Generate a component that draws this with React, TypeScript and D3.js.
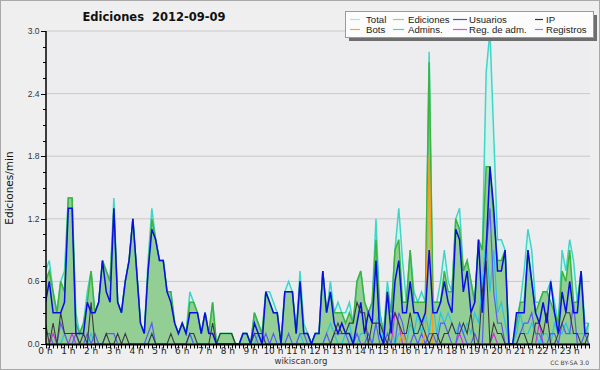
import React from 'react';
import * as d3 from 'd3';

// 10-minute bins, values in edits/min (144 points, 6 per hour)
const total = [
  0.7, 0.8, 0.5, 0.3, 0.6, 0.7,
  1.4, 1.4, 0.3, 0.1, 0.2, 0.5,
  0.7, 0.3, 0.4, 0.8, 0.7, 0.6,
  1.4, 0.4, 0.3, 0.6, 0.8, 1.2,
  0.7, 0.2, 0.1, 0.8, 1.3, 1.0,
  0.8, 0.8, 0.5, 0.5, 0.2, 0.1,
  0.2, 0.1, 0.5, 0.4, 0.3, 0.1,
  0.3, 0.1, 0.4, 0.0, 0.1, 0.1,
  0.1, 0.1, 0.0, 0.0, 0.1, 0.1,
  0.0, 0.3, 0.2, 0.1, 0.5, 0.5,
  0.4, 0.3, 0.0, 0.5, 0.6, 0.5,
  0.1, 0.7, 0.2, 0.1, 0.0, 0.1,
  0.1, 0.7, 0.3, 0.6, 0.3, 0.4,
  0.3, 0.3, 0.4, 0.2, 0.6, 0.7,
  0.4, 0.3, 0.4, 1.2, 0.3, 0.1,
  0.6, 0.3, 0.9, 1.3, 0.8, 0.4,
  0.9, 0.5, 0.4, 0.5, 0.4, 2.8,
  0.4, 0.4, 0.6, 0.9, 0.6, 0.5,
  1.2, 1.3, 0.7, 0.8, 0.6, 0.4,
  1.0, 0.9, 2.6, 3.0, 2.0, 1.0,
  1.0, 0.9, 0.0, 0.0, 0.2, 0.4,
  0.7, 1.1, 0.9, 0.4, 0.4, 0.5,
  0.5, 0.6, 0.4, 0.2, 0.9, 0.7,
  1.0, 0.8, 0.4, 0.7, 0.2, 0.2,
];

const edits = [
  0.6, 0.7, 0.5, 0.3, 0.6, 0.5,
  1.4, 1.4, 0.2, 0.1, 0.2, 0.4,
  0.7, 0.3, 0.4, 0.8, 0.7, 0.6,
  1.3, 0.4, 0.3, 0.6, 0.8, 1.2,
  0.7, 0.2, 0.1, 0.7, 1.2, 1.0,
  0.8, 0.8, 0.5, 0.5, 0.2, 0.1,
  0.2, 0.1, 0.4, 0.4, 0.3, 0.1,
  0.3, 0.1, 0.4, 0.0, 0.1, 0.1,
  0.1, 0.1, 0.0, 0.0, 0.1, 0.1,
  0.0, 0.3, 0.2, 0.1, 0.5, 0.4,
  0.3, 0.3, 0.0, 0.5, 0.5, 0.5,
  0.1, 0.6, 0.1, 0.1, 0.0, 0.1,
  0.1, 0.7, 0.3, 0.5, 0.3, 0.3,
  0.3, 0.2, 0.3, 0.2, 0.6, 0.7,
  0.4, 0.3, 0.4, 1.0, 0.3, 0.1,
  0.5, 0.3, 0.9, 1.0, 0.4, 0.4,
  0.9, 0.4, 0.4, 0.4, 0.4, 2.7,
  0.4, 0.4, 0.4, 0.7, 0.5, 0.5,
  1.2, 1.1, 0.7, 0.8, 0.6, 0.4,
  1.0, 0.9, 1.7, 1.7, 1.2, 0.8,
  0.8, 0.9, 0.0, 0.0, 0.2, 0.4,
  0.4, 0.9, 0.6, 0.3, 0.4, 0.5,
  0.5, 0.4, 0.3, 0.2, 0.7, 0.6,
  0.9, 0.4, 0.4, 0.7, 0.1, 0.2,
];

const users = [
  0.4, 0.6, 0.3, 0.3, 0.3, 0.4,
  1.3, 1.3, 0.1, 0.1, 0.1, 0.4,
  0.3, 0.3, 0.4, 0.8, 0.5, 0.4,
  1.3, 0.4, 0.3, 0.6, 0.8, 1.2,
  0.7, 0.2, 0.1, 0.7, 1.1, 1.0,
  0.8, 0.8, 0.5, 0.4, 0.2, 0.1,
  0.2, 0.1, 0.3, 0.3, 0.3, 0.1,
  0.3, 0.1, 0.1, 0.0, 0.0, 0.0,
  0.0, 0.0, 0.0, 0.0, 0.1, 0.1,
  0.0, 0.2, 0.1, 0.0, 0.5, 0.4,
  0.3, 0.3, 0.0, 0.5, 0.5, 0.5,
  0.1, 0.6, 0.1, 0.1, 0.0, 0.1,
  0.1, 0.7, 0.3, 0.5, 0.2, 0.1,
  0.2, 0.1, 0.1, 0.0, 0.2, 0.4,
  0.1, 0.3, 0.2, 0.8, 0.1, 0.0,
  0.5, 0.1, 0.6, 0.8, 0.3, 0.3,
  0.6, 0.3, 0.3, 0.2, 0.3, 0.9,
  0.3, 0.3, 0.4, 0.6, 0.4, 0.3,
  1.1, 1.0, 0.5, 0.7, 0.3, 0.4,
  1.0, 0.3, 0.9, 1.7, 1.3, 0.7,
  0.7, 0.9, 0.0, 0.0, 0.3, 0.3,
  0.3, 0.9, 0.6, 0.3, 0.2, 0.4,
  0.2, 0.6, 0.3, 0.1, 0.5, 0.3,
  0.6, 0.3, 0.3, 0.7, 0.1, 0.1,
];

const ip = [
  0.2, 0.0, 0.2, 0.0, 0.3, 0.1,
  0.1, 0.1, 0.1, 0.0, 0.1, 0.0,
  0.4, 0.0, 0.0, 0.0, 0.1, 0.0,
  0.0, 0.1, 0.0, 0.1, 0.0, 0.0,
  0.0, 0.0, 0.0, 0.0, 0.1, 0.0,
  0.0, 0.0, 0.0, 0.1, 0.0, 0.0,
  0.0, 0.0, 0.1, 0.1, 0.0, 0.0,
  0.0, 0.0, 0.2, 0.0, 0.1, 0.1,
  0.1, 0.1, 0.0, 0.0, 0.0, 0.0,
  0.0, 0.1, 0.1, 0.1, 0.0, 0.0,
  0.0, 0.0, 0.0, 0.0, 0.0, 0.0,
  0.0, 0.0, 0.0, 0.0, 0.0, 0.0,
  0.0, 0.0, 0.0, 0.0, 0.1, 0.2,
  0.1, 0.1, 0.2, 0.2, 0.4, 0.3,
  0.3, 0.0, 0.2, 0.2, 0.2, 0.1,
  0.0, 0.2, 0.3, 0.2, 0.1, 0.1,
  0.3, 0.1, 0.1, 0.2, 0.1, 0.0,
  0.1, 0.1, 0.0, 0.1, 0.1, 0.2,
  0.1, 0.1, 0.2, 0.1, 0.3, 0.0,
  0.0, 0.5, 0.8, 0.0, 0.2, 0.1,
  0.1, 0.0, 0.0, 0.0, 0.0, 0.1,
  0.1, 0.0, 0.0, 0.2, 0.2, 0.1,
  0.3, 0.0, 0.0, 0.1, 0.2, 0.3,
  0.3, 0.1, 0.1, 0.0, 0.0, 0.1,
];

const bots = [
  0, 0, 0, 0, 0, 0,  0, 0, 0, 0, 0, 0,  0, 0, 0, 0, 0, 0,  0, 0, 0, 0, 0, 0,
  0, 0, 0, 0, 0, 0,  0, 0, 0, 0, 0, 0,  0, 0, 0, 0, 0, 0,  0, 0, 0, 0, 0, 0,
  0, 0, 0, 0, 0, 0,  0, 0, 0, 0, 0, 0,  0, 0, 0, 0, 0, 0,  0, 0, 0, 0, 0, 0,
  0, 0, 0, 0, 0, 0,  0, 0, 0, 0, 0, 0,  0, 0, 0, 0, 0, 0,  0, 0, 0, 0, 0.1, 0,
  0, 0, 0, 0, 0.1, 1.8,  0, 0, 0, 0, 0, 0,  0, 0, 0, 0, 0, 0,  0, 0, 0, 0, 0, 0,
  0, 0, 0, 0, 0, 0,  0, 0, 0, 0, 0, 0,  0, 0, 0, 0, 0, 0,  0, 0, 0, 0, 0, 0,
];

const admins = [
  0, 0, 0, 0, 0, 0.1,  0, 0, 0, 0, 0, 0,  0.1, 0, 0, 0, 0, 0,  0, 0, 0, 0, 0, 0,
  0, 0, 0, 0, 0.1, 0,  0, 0, 0, 0, 0, 0,  0, 0, 0.1, 0, 0, 0,  0, 0, 0, 0, 0, 0,
  0, 0, 0, 0, 0, 0,  0, 0, 0.1, 0, 0, 0,  0, 0, 0, 0, 0, 0,  0, 0.1, 0, 0, 0, 0,
  0.0, 0.0, 0.1, 0.2, 0.1, 0.0,
  0.0, 0.1, 0.2, 0.0, 0.0, 0.1,
  0.1, 0.0, 0.0, 0.2, 0.3, 0.0,
  0.0, 0.2, 0.0, 0.1, 0.1, 0.0,
  0.2, 0.1, 0.3, 0.1, 0.3, 0.1,
  0.4, 0.1, 0.3, 0.2, 0.3, 0.2,
  0.1, 0.2, 0.1, 0.2, 0.1, 0.3,
  0.2, 0.6, 1.0, 0.5, 0.9, 0.3,
  0.4, 0.2, 0.0, 0.0, 0.1, 0.3,
  0.1, 0.1, 0.2, 0.1, 0.0, 0.1,
  0.1, 0.0, 0.2, 0.1, 0.1, 0.2,
  0.1, 0.1, 0.1, 0.1, 0.1, 0.2,
];

const regAdm = [
  0, 0, 0.1, 0, 0, 0,  0, 0.1, 0, 0, 0, 0,  0, 0, 0, 0, 0, 0,  0, 0, 0, 0, 0, 0,
  0, 0, 0, 0, 0, 0,  0, 0, 0, 0, 0, 0,  0, 0, 0, 0, 0, 0,  0, 0, 0, 0, 0, 0,
  0, 0, 0, 0, 0, 0,  0, 0, 0, 0, 0, 0,  0, 0, 0, 0, 0, 0,  0, 0, 0, 0, 0, 0,
  0, 0, 0, 0, 0, 0,  0, 0, 0, 0, 0, 0,  0, 0, 0, 0, 0, 0,  0, 0, 0.3, 0.2, 0, 0,
  0, 0, 0, 0, 0, 0,  0, 0, 0, 0, 0, 0,  0, 0.1, 0, 0, 0, 0,  0, 0, 0, 0, 0.1, 0,
  0, 0, 0, 0, 0, 0,  0, 0, 0, 0, 0.2, 0,  0, 0, 0, 0, 0, 0,  0, 0, 0, 0, 0, 0,
];

const registros = [
  0.1, 0.1, 0.0, 0.0, 0.2, 0.1,
  0.0, 0.0, 0.1, 0.0, 0.0, 0.1,
  0.0, 0.1, 0.0, 0.0, 0.1, 0.1,
  0.1, 0.0, 0.0, 0.0, 0.0, 0.0,
  0.0, 0.0, 0.0, 0.1, 0.2, 0.0,
  0.0, 0.0, 0.0, 0.0, 0.0, 0.0,
  0.0, 0.0, 0.1, 0.0, 0.0, 0.0,
  0.0, 0.0, 0.0, 0.0, 0.0, 0.0,
  0.0, 0.0, 0.0, 0.0, 0.0, 0.0,
  0.0, 0.1, 0.0, 0.0, 0.1, 0.0,
  0.1, 0.0, 0.0, 0.0, 0.1, 0.0,
  0.0, 0.1, 0.1, 0.0, 0.0, 0.0,
  0.0, 0.0, 0.1, 0.0, 0.1, 0.1,
  0.1, 0.1, 0.0, 0.0, 0.1, 0.0,
  0.0, 0.1, 0.0, 0.2, 0.0, 0.0,
  0.1, 0.0, 0.0, 0.3, 0.2, 0.0,
  0.0, 0.1, 0.0, 0.1, 0.0, 0.1,
  0.1, 0.0, 0.2, 0.2, 0.1, 0.0,
  0.0, 0.2, 0.1, 0.0, 0.0, 0.1,
  0.0, 0.0, 0.9, 1.3, 0.5, 0.2,
  0.2, 0.0, 0.0, 0.0, 0.0, 0.1,
  0.2, 0.2, 0.3, 0.1, 0.1, 0.0,
  0.0, 0.1, 0.1, 0.0, 0.2, 0.1,
  0.1, 0.4, 0.0, 0.0, 0.1, 0.0,
];

const hourLabels = d3.range(24).map((h) => `${h} h`);
const yTicks = [0, 0.6, 1.2, 1.8, 2.4, 3.0];

const legendRow1 = ['Total', 'Ediciones', 'Usuarios', 'IP'];
const legendRow2 = ['Bots', 'Admins.', 'Reg. de adm.', 'Registros'];
const legendColors1 = ['#a8e8e0', '#90d490', '#4a4ae0', '#333333'];
const legendColors2 = ['#ffa040', '#40d0e0', '#e050e0', '#8080ff'];

const W = 600;
const H = 370;

export default function App() {
  const x = d3.scaleLinear().domain([0, 1440]).range([45.5, 592.5]);
  const y = d3.scaleLinear().domain([0, 3]).range([344, 31]);
  const left = 46;
  const right = 590;

  const line = (arr: number[]) =>
    d3.line<number>().x((_, i) => x(i * 10)).y((d) => y(d))(arr) || '';
  const area = (arr: number[]) =>
    d3.area<number>().x((_, i) => x(i * 10)).y0(y(0)).y1((d) => y(d))(arr) || '';

  const minorY = d3.range(0, 3.0001, 0.15);
  const minorX = d3.range(0, 1440, 10);

  const sans = "'DejaVu Sans', Verdana, sans-serif";
  const lib = "'Liberation Sans', Arial, sans-serif";

  const legendSw = [
    [350, 360, 366],
    [393, 404, 408],
    [453, 467, 469],
    [535, 543, 546],
  ];

  return (
    <svg
      width={W}
      height={H}
      style={{ position: 'absolute', left: 0, top: 0, display: 'block' }}
      xmlns="http://www.w3.org/2000/svg"
    >
      <rect x={0} y={0} width={W} height={H} fill="#efefef" />
      <rect x={0.5} y={0.5} width={W - 1} height={H - 1} fill="none" stroke="#a9a9a9" />
      <rect x={left} y={31} width={right - left} height={313} fill="#ededef" />

      {/* grid */}
      {yTicks.slice(1).map((t) => (
        <line key={t} x1={left} x2={right} y1={y(t)} y2={y(t)} stroke="#c9c9c9" strokeWidth={1} />
      ))}

      <defs>
        <clipPath id="plotclip">
          <rect x={left} y={20} width={right - left} height={325} />
        </clipPath>
      </defs>

      <g clipPath="url(#plotclip)">
        <path d={area(total)} fill="#d4f1ec" />
        <path d={area(edits)} fill="#8fcb8f" fillOpacity={0.95} />
        <path d={line(total)} fill="none" stroke="#3fd6c8" strokeWidth={1.5} />
        <path d={line(edits)} fill="none" stroke="#3cb43c" strokeWidth={1.5} />
        <path d={line(admins)} fill="none" stroke="#28c4e0" strokeWidth={1.2} />
        <path d={line(regAdm)} fill="none" stroke="#cc33dd" strokeWidth={1.2} />
        <path d={line(registros)} fill="none" stroke="#5a5af5" strokeWidth={1.2} />
        <path d={line(bots)} fill="none" stroke="#ff9a10" strokeWidth={1.3} />
        <path d={line(ip)} fill="none" stroke="#3a3a3a" strokeWidth={1.1} />
        <path d={line(users)} fill="none" stroke="#0c0ce6" strokeWidth={1.5} />
      </g>

      {/* y axis */}
      <line x1={left} x2={left} y1={31} y2={345} stroke="#000" strokeWidth={1.5} />
      {minorY.map((t, i) => (
        <line key={'my' + i} x1={left - 3} x2={left} y1={Math.round(y(t)) + 0.5} y2={Math.round(y(t)) + 0.5} stroke="#000" />
      ))}
      {yTicks.map((t) => (
        <g key={'yt' + t}>
          <line x1={left - 5} x2={left} y1={Math.round(y(t)) + 0.5} y2={Math.round(y(t)) + 0.5} stroke="#000" />
          <text x={39.5} y={y(t) + 3} textAnchor="end" fontFamily={lib} fontSize={8.5} fill="#333">
            {t.toFixed(1)}
          </text>
        </g>
      ))}
      <text
        transform={`translate(13, 188) rotate(-90)`}
        textAnchor="middle"
        fontFamily={sans}
        fontSize={10.5}
        fill="#111"
      >
        Ediciones/min
      </text>

      {/* x axis */}
      <line x1={left} x2={right} y1={344.5} y2={344.5} stroke="#000" strokeWidth={2} />
      {minorX.map((m) => (
        <line key={'mx' + m} x1={Math.round(x(m)) + 0.5} x2={Math.round(x(m)) + 0.5} y1={344} y2={348.5} stroke="#000" />
      ))}
      {hourLabels.map((lab, h) => (
        <text key={lab} x={x(h * 60)} y={353.5} textAnchor="middle" fontFamily={sans} fontSize={9} fill="#222" style={{ whiteSpace: 'pre' }}>
          {lab}
        </text>
      ))}

      <text x={301} y={363.5} textAnchor="middle" fontFamily={sans} fontSize={8.5} fill="#333">
        wikiscan.org
      </text>
      <text x={589} y={364.5} textAnchor="end" fontFamily={sans} fontSize={6} fill="#444">
        CC BY-SA 3.0
      </text>

      {/* title */}
      <text x={154} y={21} textAnchor="middle" fontFamily={sans} fontWeight="bold" fontSize={11.5} fill="#111" style={{ whiteSpace: 'pre' }}>
        {'Ediciones  2012-09-09'}
      </text>

      {/* legend */}
      <rect x={349} y={15} width={248} height={26} fill="#6e6e6e" />
      <rect x={345.5} y={11.5} width={248} height={26} fill="#fcfcfc" stroke="#9a9a9a" />
      {legendRow1.map((lab, i) => (
        <g key={lab}>
          <line x1={legendSw[i][0]} x2={legendSw[i][1]} y1={19.5} y2={19.5} stroke={legendColors1[i]} strokeWidth={1.2} />
          <text x={legendSw[i][2]} y={23} fontFamily={lib} fontSize={9.6} fill="#222">
            {lab}
          </text>
        </g>
      ))}
      {legendRow2.map((lab, i) => (
        <g key={lab}>
          <line x1={legendSw[i][0]} x2={legendSw[i][1]} y1={29.5} y2={29.5} stroke={legendColors2[i]} strokeWidth={1.2} />
          <text x={legendSw[i][2]} y={33} fontFamily={lib} fontSize={9.6} fill="#222">
            {lab}
          </text>
        </g>
      ))}
    </svg>
  );
}
